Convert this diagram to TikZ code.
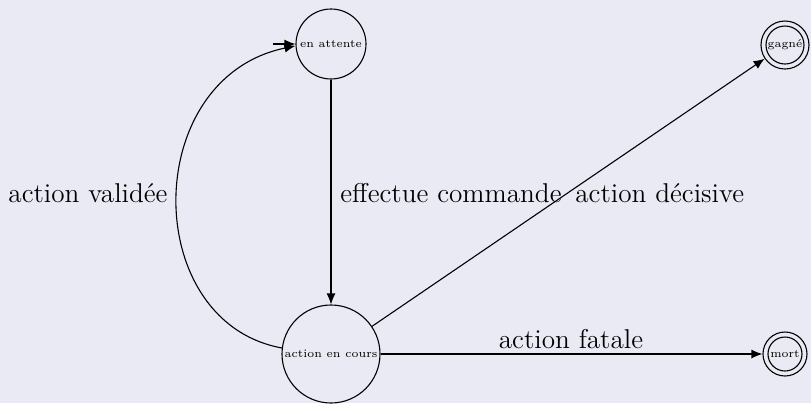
\documentclass[tikz,border=0pt]{standalone}
\usetikzlibrary{arrows.meta}
\definecolor{bg}{HTML}{EAEAF5}
\tikzset{
  state/.style={draw, circle, inner sep=0pt, line width=0.55pt, font=\fontsize{5.7}{6}\selectfont},
  edge/.style={line width=0.55pt, -{Latex[length=5.5pt,width=4.5pt]}},
  lbl/.style={font=\fontsize{13.6}{15}\selectfont, inner sep=0pt}
}
\begin{document}
\begin{tikzpicture}[x=0.5pt,y=-0.5pt]
\fill[bg] (0,0) rectangle (811,403);
\useasboundingbox (0,0) rectangle (811,403);
\node[state, minimum size=35pt] (att) at (331,44) {en attente};
\node[state, minimum size=49pt] (aec) at (331,354) {action en cours};
\node[state, minimum size=24pt] (gag) at (785,45) {gagné};
\draw[line width=0.55pt] (gag.center) circle (9.5pt);
\node[state, minimum size=22pt] (mort) at (785,354) {mort};
\draw[line width=0.55pt] (mort.center) circle (8.5pt);
\coordinate (init) at (273,44);
\draw[edge] (init) -- (att.west);
\draw[edge] (att.south) -- (aec.north);
\draw[edge] (aec.173) .. controls (140,322) and (140,78) .. (att.183);
\draw[edge] (aec.34) -- (gag.214);
\draw[edge] (aec.east) -- (mort.west);
\node[lbl] (l1) at (88,193) {action validée};
\node[lbl, anchor=west] (l2) at (340,193) {effectue commande};
\node[lbl, anchor=west] (l3) at (575,193) {action décisive};
\node[lbl] (l4) at (571,339) {action fatale};
\end{tikzpicture}
\end{document}
